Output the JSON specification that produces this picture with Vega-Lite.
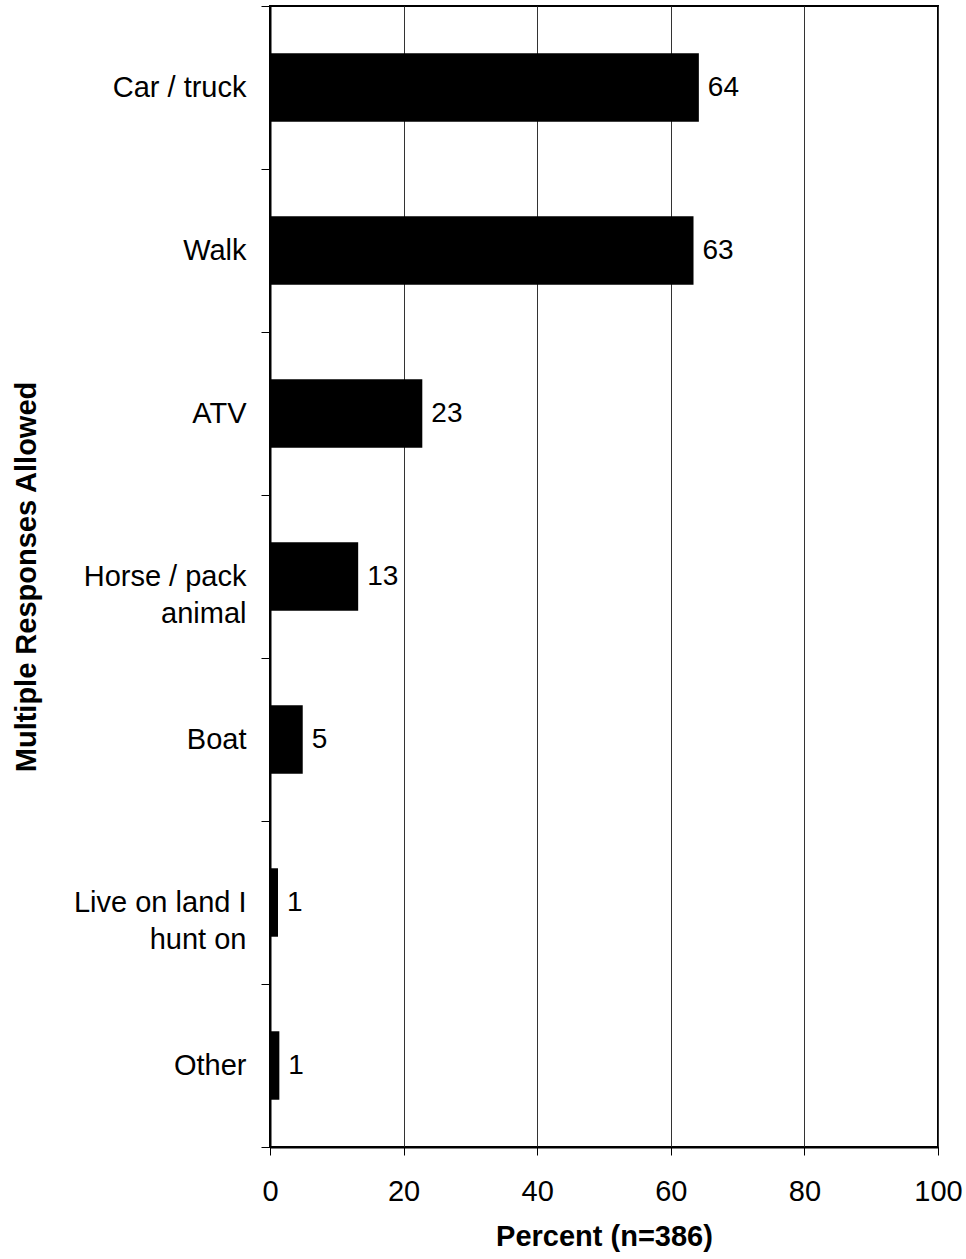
{
  "$schema": "https://vega.github.io/schema/vega-lite/v6.json",
  "autosize": "none",
  "width": 668,
  "height": 1141,
  "padding": {"left": 270, "top": 6, "right": 28, "bottom": 112},
  "background": "white",
  "config": {
    "font": "Liberation Sans",
    "view": {"stroke": "black", "strokeWidth": 2}
  },
  "data": {
    "values": [
      {"mode": "Car / truck", "pct": 64.2},
      {"mode": "Walk", "pct": 63.4},
      {"mode": "ATV", "pct": 22.8},
      {"mode": "Horse / pack animal", "pct": 13.2},
      {"mode": "Boat", "pct": 4.9},
      {"mode": "Live on land I hunt on", "pct": 1.2},
      {"mode": "Other", "pct": 1.4}
    ]
  },
  "encoding": {
    "y": {
      "field": "mode",
      "type": "nominal",
      "sort": null,
      "scale": {"paddingInner": 0, "paddingOuter": 0},
      "axis": {
        "title": "Multiple Responses Allowed",
        "titleFontSize": 29,
        "titleFontWeight": "bold",
        "titleColor": "black",
        "titlePadding": 32,
        "labelFontSize": 29,
        "labelColor": "black",
        "labelPadding": 15,
        "labelLineHeight": 37,
        "labelExpr": "datum.value == 'Horse / pack animal' ? ['Horse / pack', 'animal'] : datum.value == 'Live on land I hunt on' ? ['Live on land I', 'hunt on'] : datum.value",
        "domainColor": "black",
        "domainWidth": 2,
        "ticks": true,
        "tickBand": "extent",
        "tickColor": "black",
        "tickSize": 9,
        "tickWidth": 1,
        "grid": false
      }
    },
    "x": {
      "field": "pct",
      "type": "quantitative",
      "scale": {"domain": [0, 100]},
      "axis": {
        "title": "Percent (n=386)",
        "titleFontSize": 29,
        "titleFontWeight": "bold",
        "titleColor": "black",
        "titlePadding": 16,
        "values": [0, 20, 40, 60, 80, 100],
        "labelFontSize": 29,
        "labelColor": "black",
        "labelPadding": 22,
        "labelFlush": false,
        "tickColor": "black",
        "tickSize": 8,
        "domainColor": "black",
        "domainWidth": 2,
        "grid": true,
        "gridColor": "#333",
        "gridWidth": 1
      }
    }
  },
  "layer": [
    {
      "mark": {"type": "bar", "color": "black", "height": {"band": 0.42}}
    },
    {
      "mark": {"type": "text", "align": "left", "dx": 9, "fontSize": 28, "color": "black", "baseline": "middle"},
      "encoding": {"text": {"field": "pct", "type": "quantitative", "format": ".0f"}}
    }
  ]
}
